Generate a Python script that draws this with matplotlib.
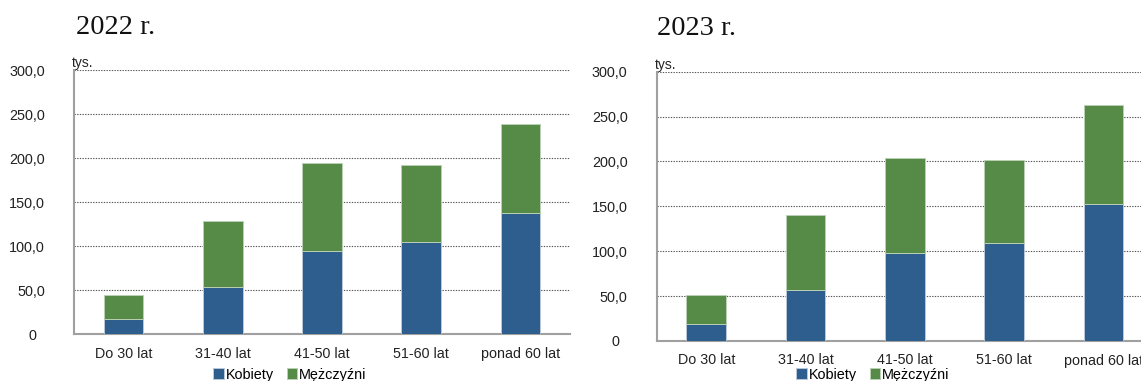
import matplotlib
matplotlib.use("Agg")
import matplotlib.pyplot as plt
from matplotlib.ticker import FuncFormatter

categories = ["Do 30 lat", "31-40 lat", "41-50 lat", "51-60 lat", "ponad 60 lat"]
kobiety_2022 = [17.0, 53.7, 94.9, 104.4, 137.3]
total_2022 = [44.3, 129.0, 194.8, 192.5, 238.4]
kobiety_2023 = [18.9, 57.1, 98.4, 109.5, 152.6]
total_2023 = [50.9, 140.7, 203.5, 201.6, 262.5]
mezczyzni_2022 = [t - k for t, k in zip(total_2022, kobiety_2022)]
mezczyzni_2023 = [t - k for t, k in zip(total_2023, kobiety_2023)]
yticks = [0, 50, 100, 150, 200, 250, 300]
titles = ["2022 r.", "2023 r."]
series_names = ["Kobiety", "Mężczyźni"]

BLUE = "#2D5E8E"
GREEN = "#568A47"
W, H = 1141, 381

plt.rcParams['font.family'] = ['Liberation Sans', 'DejaVu Sans']
fig = plt.figure(figsize=(W / 100, H / 100), dpi=100)

def fmt(v, pos):
    if v == 0:
        return "0  "
    return f"{v:.1f}".replace(".", ",")

panels = [
    dict(rect=(74, 70, 570, 334.3), kob=kobiety_2022, mez=mezczyzni_2022,
         title=titles[0], tx=75.7, ty=34, lx=290),
    dict(rect=(656.7, 71.7, 1153, 341), kob=kobiety_2023, mez=mezczyzni_2023,
         title=titles[1], tx=657, ty=35, lx=873),
]

for p in panels:
    x0, y0, x1, y1 = p["rect"]
    ax = fig.add_axes([x0 / W, 1 - y1 / H, (x1 - x0) / W, (y1 - y0) / H])
    xs = range(len(categories))
    b1 = ax.bar(xs, p["kob"], width=0.4, color=BLUE, edgecolor="#b9c8d8",
                linewidth=0.7, label=series_names[0], zorder=3)
    b2 = ax.bar(xs, p["mez"], bottom=p["kob"], width=0.4, color=GREEN,
                edgecolor="#b9d0b4", linewidth=0.7, label=series_names[1], zorder=3)
    ax.set_xlim(-0.5, 4.5)
    ax.set_ylim(0, 300)
    ax.set_yticks(yticks)
    ax.yaxis.set_major_formatter(FuncFormatter(fmt))
    ax.set_xticks(list(xs))
    ax.set_xticklabels(categories)
    ax.tick_params(axis="y", length=0, pad=21, labelsize=10.4, labelcolor="#222222")
    ax.tick_params(axis="x", length=0, pad=9, labelsize=10.3, labelcolor="#222222")
    ax.grid(axis="y", linestyle=(0, (1.2, 1.2)), color="#555555", linewidth=0.8, zorder=0)
    ax.set_axisbelow(True)
    for s in ("top", "right"):
        ax.spines[s].set_visible(False)
    for s in ("left", "bottom"):
        ax.spines[s].set_color("#a0a0a0")
        ax.spines[s].set_linewidth(1.5)
    fig.text((x0 - 2) / W, 1 - (y0 - 3) / H, "tys.", ha="left", va="baseline",
             fontsize=10, color="#222222")
    fig.text(p["tx"] / W, 1 - p["ty"] / H, p["title"], family="Liberation Serif",
             fontsize=20.5, ha="left", va="baseline", color="#111111")
    fig.legend(handles=[b1, b2], labels=series_names, loc="center",
               bbox_to_anchor=(p["lx"] / W, 1 - 374.5 / H), ncol=2, frameon=False,
               fontsize=10.4, handlelength=0.7, handleheight=0.7,
               handletextpad=0.15, columnspacing=0.9, borderpad=0, borderaxespad=0)

fig.savefig("out.png", dpi=100)
